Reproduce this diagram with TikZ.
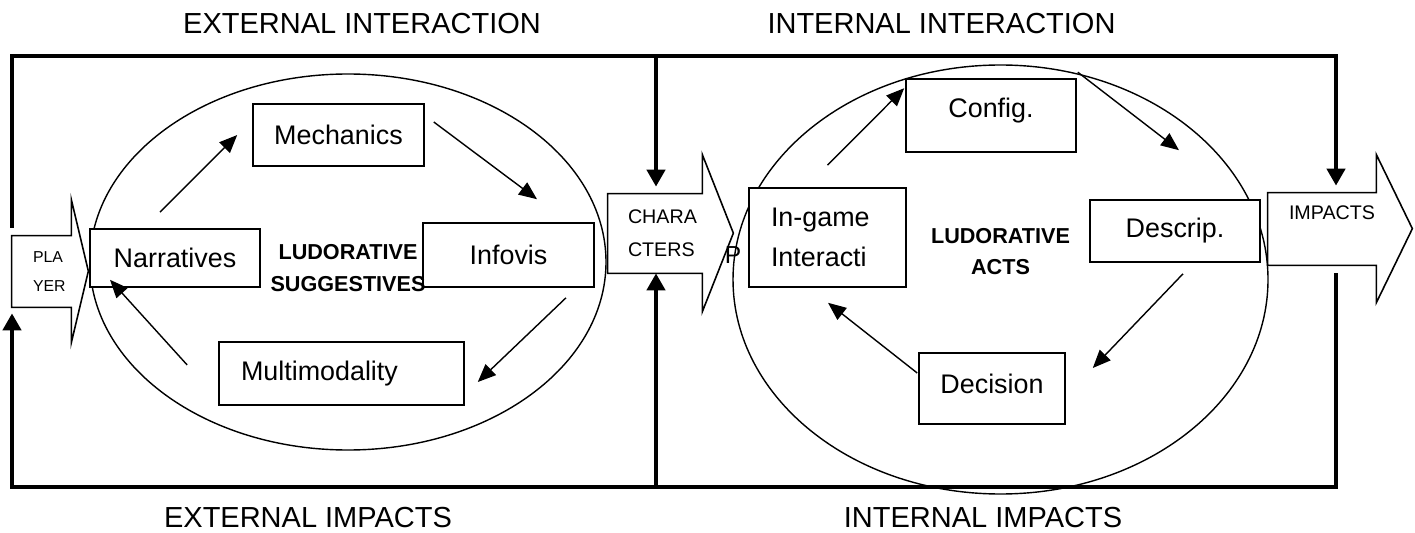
\documentclass[tikz,border=0pt]{standalone}
\usepackage{fontspec}
\setmainfont{Liberation Sans}
\usetikzlibrary{arrows.meta}

\begin{document}
\begin{tikzpicture}[
  box/.style={draw, fill=white, line width=0.9pt, inner sep=0pt, font=\fontsize{15.3pt}{18pt}\selectfont},
  blockbody/.style={inner ysep=0pt, align=left, font=\fontsize{11.2pt}{18.7pt}\selectfont},
  title/.style={font=\fontsize{16.5pt}{20pt}\selectfont},
  hint/.style={align=center, font=\bfseries\fontsize{12.3pt}{18pt}\selectfont},
  flow/.style={line width=0.8pt, -{Triangle[length=0.36cm, width=0.30cm]}},
  bar/.style={line width=2.8pt, -{Triangle[length=0.34cm, width=0.36cm]}},
  outline/.style={line width=0.9pt},
  loop/.style={line width=0.8pt}
]
\useasboundingbox (0,0) rectangle (28.30,-10.66);

%%%  nodes

% title nodes
\node [title] (extint) at (7.24,-0.48) {EXTERNAL INTERACTION};
\node [title] (intint) at (18.83,-0.48) {INTERNAL INTERACTION};
\node [title] (extimp) at (6.16,-10.36) {EXTERNAL IMPACTS};
\node [title] (intimp) at (19.66,-10.36) {INTERNAL IMPACTS};

% loops
\draw [loop] (6.96,-5.24) ellipse [x radius=5.16, y radius=3.76];
\draw [loop] (20.01,-5.59) ellipse [x radius=5.35, y radius=4.29];

% left over letter behind in-game box
\node [inner sep=0pt, font=\fontsize{14pt}{18pt}\selectfont] (pfrag) at (14.66,-5.10) {P};

% suggestive nodes
\node [box, minimum width=3.40cm, minimum height=1.16cm] (narr) at (3.50,-5.16) {Narratives};
\node [box, minimum width=3.42cm, minimum height=1.24cm] (mech) at (6.77,-2.70) {Mechanics};
\node [box, minimum width=3.42cm, minimum height=1.28cm] (info) at (10.17,-5.10) {Infovis};
\node [box, minimum height=1.26cm, inner xsep=0.44cm, text width=4.02cm, align=left] (multi) at (6.83,-7.47) {Multimodality};

% act nodes
\node [box, minimum height=1.98cm, inner xsep=0.44cm, text width=2.26cm, align=left, font=\fontsize{15.3pt}{22.7pt}\selectfont] (ingame) at (16.55,-4.75) {In-game\\Interacti};
\node [box, minimum width=3.40cm, minimum height=1.46cm, text depth=0.29cm] (config) at (19.82,-2.31) {Config.};
\node [box, minimum width=3.40cm, minimum height=1.24cm] (descr) at (23.50,-4.62) {Descrip.};
\node [box, minimum width=2.92cm, minimum height=1.42cm, text depth=0.18cm] (decis) at (19.84,-7.77) {Decision};

% loop label nodes
\node [hint] (sugg) at (6.96,-5.36) {LUDORATIVE\\SUGGESTIVES};
\node [hint] (acts) at (20.01,-5.03) {LUDORATIVE\\ACTS};

% block arrow nodes
\node [blockbody, minimum width=1.18cm, minimum height=1.42cm, inner xsep=0.42cm, text width=0.34cm, font=\fontsize{9pt}{17pt}\selectfont] (player) at (0.83,-5.43) {PLA\\YER};
\node [blockbody, minimum width=1.88cm, minimum height=1.58cm, inner xsep=0.40cm, text width=1.08cm] (chars) at (13.10,-4.67) {CHARA\\CTERS};
\node [blockbody, minimum width=2.16cm, minimum height=1.44cm, inner xsep=0.42cm, text width=1.32cm] (impacts) at (26.44,-4.58) {IMPACTS\\\mbox{}};

% frame corners
\coordinate (tl) at (0.24,-1.12);
\coordinate (tm) at (13.12,-1.12);
\coordinate (tr) at (26.72,-1.12);
\coordinate (bl) at (0.24,-9.74);
\coordinate (bm) at (13.12,-9.74);
\coordinate (br) at (26.72,-9.74);

%%% edges

% block arrows
\draw [outline] (player.north west) -- (player.north east) -- ++(0,0.72) -- ++(0.34,-1.43) -- ++(-0.34,-1.43) -- (player.south east) -- (player.south west) -- cycle;
\draw [outline] (chars.north west) -- (chars.north east) -- ++(0,0.78) -- ++(0.62,-1.57) -- ++(-0.62,-1.57) -- (chars.south east) -- (chars.south west) -- cycle;
\draw [outline] (impacts.north west) -- (impacts.north east) -- ++(0,0.76) -- ++(0.72,-1.48) -- ++(-0.72,-1.48) -- (impacts.south east) -- (impacts.south west) -- cycle;

% interaction frame
\draw [bar, shorten <=0.16cm, shorten >=0.14cm] (tl |- player.north) -- (tl) -- (tr) -- (tr |- impacts.north);
\draw [bar, shorten >=0.14cm] (tm) -- (tm |- chars.north);

% impacts frame
\draw [bar, shorten <=0.16cm, shorten >=0.12cm] (br |- impacts.south) -- (br) -- (bl) -- (bl |- player.south);
\draw [bar] (bm) -- (bm |- chars.south);

% suggestive loop
\draw [flow] ([shift={(-0.30,0.32)}]narr.north) -- ([xshift=-0.30cm]mech.west);
\draw [flow] ([shift={(0.18,0.26)}]mech.east) -- ([shift={(0.57,0.46)}]info.north);
\draw [flow] ([shift={(1.15,-0.20)}]info.south) -- ([shift={(0.26,-0.17)}]multi.east);
\draw [flow] ([shift={(-0.62,0.17)}]multi.west) -- ([shift={(-1.30,0.16)}]narr.south);

% act loop
\draw [flow] ([yshift=0.44cm]ingame.north) -- ([shift={(-0.02,-0.20)}]config.north west);
\draw [flow] ([shift={(0.02,0.12)}]config.north east) -- ([shift={(0.08,0.98)}]descr.north);
\draw [flow] ([shift={(0.16,-0.22)}]descr.south) -- ([shift={(0.54,0.41)}]decis.east);
\draw [flow] ([shift={(-0.02,0.31)}]decis.west) -- ([shift={(0.01,-0.30)}]ingame.south);
\end{tikzpicture}
\end{document}
